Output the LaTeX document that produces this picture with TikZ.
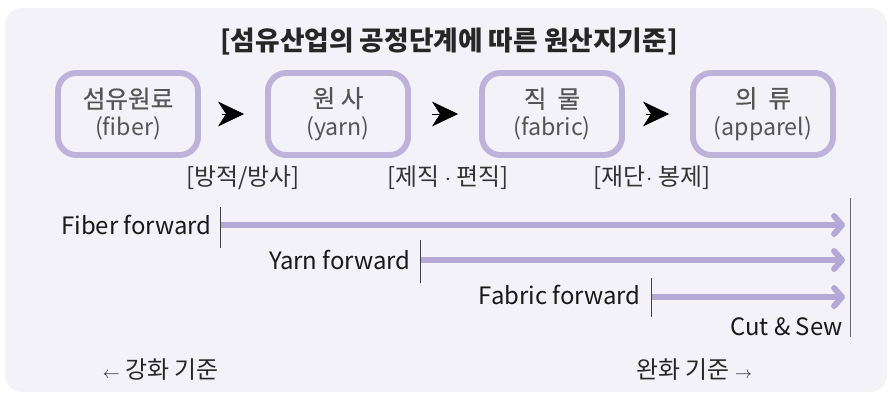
\documentclass[tikz,border=0pt]{standalone}
\usepackage{fontspec}
\setmainfont{Noto Sans CJK KR}
\newfontfamily\krmid[FakeBold=0.5]{Noto Sans CJK KR}
\usetikzlibrary{arrows.meta,positioning}

\definecolor{panelbg}{HTML}{F3F2F8}
\definecolor{lilac}{HTML}{BCB2DA}
\definecolor{lilacarrow}{HTML}{B4A9D6}
\definecolor{boxtext}{HTML}{555555}

\newcommand{\stagetext}[2]{{\krmid\fontsize{17.5}{21}\selectfont #1}\\[4pt]{\fontsize{16.5}{21}\selectfont #2}}

\begin{document}
\begin{tikzpicture}[x=0.025cm, y=-0.025cm,
    stage/.style={rectangle, draw=lilac, line width=4.2pt, rounded corners=13pt,
                  minimum width=3.5cm, minimum height=2.05cm, align=center,
                  text=boxtext, inner sep=0pt},
    flow/.style={-{Stealth[length=0.65cm, width=0.62cm, inset=0.2cm]}, line width=0.4pt,
                 shorten <=0.525cm, shorten >=0.525cm},
    fwd/.style={line width=4.2pt, draw=lilacarrow,
                -{Straight Barb[length=0.2cm, width=0.45cm, round]}},
    tick/.style={draw=black!75, line width=0.6pt},
    step label/.style={font=\fontsize{17}{19}\selectfont, text=black!80},
    fwd label/.style={anchor=east, font=\fontsize{17}{19}\selectfont, text=black!90, inner sep=0pt}]

    % panel
    \useasboundingbox (0,0) rectangle (892,395);
    \fill[panelbg, rounded corners=12pt] (5,8) rectangle (887,392);

    % title
    \node[font=\fontsize{19}{22}\selectfont\bfseries, text=black!85] (title) at (449,42)
        {[섬유산업의 공정단계에 따른 원산지기준]};

    % stages
    \node[stage] (fiber) at (128,114) {\stagetext{섬유원료}{(fiber)}};
    \node[stage] (yarn) at (338,114) {\stagetext{원\ 사}{(yarn)}};
    \node[stage] (fabric) at (552,114) {\stagetext{직\ \ 물}{(fabric)}};
    \node[stage] (apparel) at (763,114) {\stagetext{의\ \ 류}{(apparel)}};

    \draw[flow] (fiber) -- (yarn);
    \draw[flow] (yarn) -- (fabric);
    \draw[flow] (fabric) -- (apparel);

    % process labels
    \node[step label] (spin) at (243,178) {[방적/방사]};
    \node[step label] (weave) at (448,178) {[제직 $\cdot$ 편직]};
    \node[step label] (sew) at (652,178) {[재단$\cdot$ 봉제]};

    % forward rules
    \coordinate (fiberstart) at (220,225);
    \coordinate (yarnstart) at (420,260);
    \coordinate (fabricstart) at (651,297);
    \coordinate (fiberend) at (845,225);
    \coordinate (yarnend) at (845,260);
    \coordinate (fabricend) at (845,297);

    \node[fwd label] (fiberlbl) at (212,225) {Fiber forward};
    \node[fwd label] (yarnlbl) at (411,260) {Yarn forward};
    \node[fwd label] (fabriclbl) at (641,295) {Fabric forward};

    \draw[fwd] (fiberstart) -- (fiberend);
    \draw[fwd] (yarnstart) -- (yarnend);
    \draw[fwd] (fabricstart) -- (fabricend);

    \draw[tick] (220,207) -- (220,248);
    \draw[tick] (420,240) -- (420,283);
    \draw[tick] (651,278) -- (651,317);
    \draw[tick, black!60] (850,198) -- (850,337);

    \node[fwd label] (cutsew) at (843,327) {Cut \& Sew};

    % scale
    \node[step label, anchor=west, text=black!85] (strict) at (98,370) {{\fontsize{13}{15}\selectfont$\leftarrow$} 강화 기준};
    \node[step label, anchor=east, text=black!85] (loose) at (757,370) {완화 기준 {\fontsize{13}{15}\selectfont$\rightarrow$}};
\end{tikzpicture}
\end{document}
